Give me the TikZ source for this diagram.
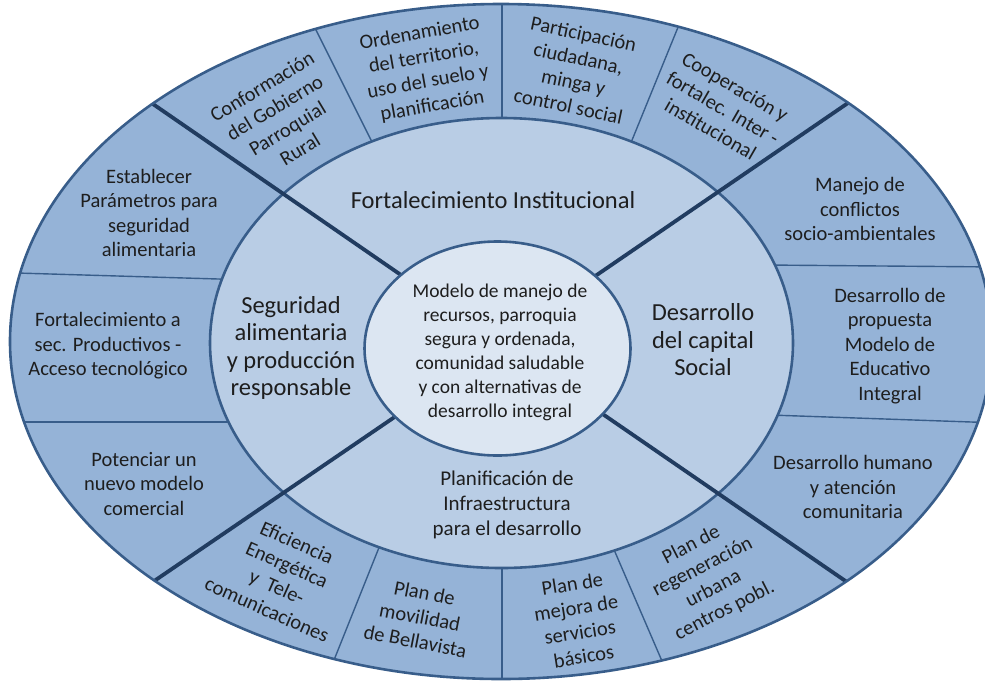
\documentclass[tikz,border=0pt]{standalone}
\usepackage{fontspec}
\setmainfont{Carlito}
\definecolor{outerc}{RGB}{149,179,215}
\definecolor{midc}{RGB}{185,205,229}
\definecolor{innerc}{RGB}{220,230,242}
\definecolor{edgec}{RGB}{56,93,138}
\definecolor{darkc}{RGB}{33,60,96}
\definecolor{textc}{RGB}{30,30,30}
\tikzset{
  thinline/.style={draw=edgec, line width=1.4pt},
  thickline/.style={draw=darkc, line width=3.8pt},
  rim/.style={draw=edgec, line width=2.6pt},
  cell/.style={align=center, inner sep=0pt, text=textc, font=\fontsize{20.5}{24.5}\selectfont},
  midlabel/.style={align=center, inner sep=0pt, text=textc, font=\fontsize{24.5}{27.5}\selectfont},
  planlabel/.style={align=center, inner sep=0pt, text=textc, font=\fontsize{21}{25}\selectfont},
  corelabel/.style={align=center, inner sep=0pt, text=textc, font=\fontsize{19.5}{24}\selectfont}
}
\begin{document}
\begin{tikzpicture}[x=1pt,y=-1pt]
\useasboundingbox (0,0) rectangle (985,681);

% centres
\coordinate (oc) at (501,341.5);
\coordinate (mc) at (501.5,343);
\coordinate (ic) at (497.5,348.5);

% thin dividers end points
\coordinate (d1a) at (312,22);  \coordinate (d1b) at (376,150);
\coordinate (d2a) at (502,-5);  \coordinate (d2b) at (502,130);
\coordinate (d3a) at (683,15);  \coordinate (d3b) at (628,150);
\coordinate (l1a) at (0,272.5); \coordinate (l1b) at (235,279.5);
\coordinate (l2a) at (0,422);   \coordinate (l2b) at (245,422);
\coordinate (r1a) at (765,265); \coordinate (r1b) at (1000,267);
\coordinate (r2a) at (770,415); \coordinate (r2b) at (1000,423);
\coordinate (b1a) at (382,540); \coordinate (b1b) at (328,675);
\coordinate (b2a) at (502,555); \coordinate (b2b) at (502,690);
\coordinate (b3a) at (612,545); \coordinate (b3b) at (668,675);

% thick dividers end points
\coordinate (t1a) at (446,306); \coordinate (t1b) at (140.6,95.5);
\coordinate (t2a) at (550,307); \coordinate (t2b) at (860.4,94.5);
\coordinate (t3a) at (443,384); \coordinate (t3b) at (141,590);
\coordinate (t4a) at (559,384); \coordinate (t4b) at (860,591);

% outer ring
\fill[outerc] (oc) ellipse [x radius=491pt, y radius=337.5pt];
\begin{scope}
  \clip (oc) ellipse [x radius=491pt, y radius=337.5pt];
  \draw[thinline] (d1a) -- (d1b);
  \draw[thinline] (d2a) -- (d2b);
  \draw[thinline] (d3a) -- (d3b);
  \draw[thinline] (l1a) -- (l1b);
  \draw[thinline] (l2a) -- (l2b);
  \draw[thinline] (r1a) -- (r1b);
  \draw[thinline] (r2a) -- (r2b);
  \draw[thinline] (b1a) -- (b1b);
  \draw[thinline] (b2a) -- (b2b);
  \draw[thinline] (b3a) -- (b3b);
  % middle ring
  \filldraw[fill=midc, rim] (mc) ellipse [x radius=291.5pt, y radius=225pt];
  \draw[thickline] (t1a) -- (t1b);
  \draw[thickline] (t2a) -- (t2b);
  \draw[thickline] (t3a) -- (t3b);
  \draw[thickline] (t4a) -- (t4b);
\end{scope}
% inner ellipse
\filldraw[fill=innerc, rim] (ic) ellipse [x radius=133pt, y radius=107pt];
% outer rim
\draw[rim] (oc) ellipse [x radius=491pt, y radius=337.5pt];

% outer ring texts: top
\node[cell, rotate=31]  (c1) at (281,118) {Conformación\\del Gobierno\\Parroquial\\Rural};
\node[cell, rotate=10]  (c2) at (426,70)  {Ordenamiento\\del territorio,\\uso del suelo y\\planificación};
\node[cell, rotate=-12] (c3) at (576,70)  {Participación\\ciudadana,\\minga y\\control social};
\node[cell, rotate=-30] (c4) at (723,108) {Cooperación y\\fortalec. Inter -\\institucional};
% bottom
\node[cell, rotate=-24] (c5) at (282,576) {Eficiencia\\Energética\\y\ \ Tele-\\comunicaciones};
\node[cell, rotate=-11] (c6) at (420,617) {Plan de\\movilidad\\de Bellavista};
\node[cell, rotate=9]   (c7) at (578,620) {Plan de\\mejora de\\servicios\\básicos};
\node[cell, rotate=27]  (c8) at (708,578) {Plan de\\regeneración\\urbana\\centros pobl.};
% left
\node[cell] (c9)  at (149,213) {Establecer\\Parámetros para\\seguridad\\alimentaria};
\node[cell] (c10) at (108,346) {Fortalecimiento a\\sec. Productivos -\\Acceso tecnológico};
\node[cell] (c11) at (144,484) {Potenciar un\\nuevo modelo\\comercial};
% right
\node[cell] (c12) at (860,209) {Manejo de\\conflictos\\socio-ambientales};
\node[cell] (c13) at (890,346) {Desarrollo de\\propuesta\\Modelo de\\Educativo\\Integral};
\node[cell] (c14) at (853,487) {Desarrollo humano\\y atención\\comunitaria};

% middle ring texts
\node[midlabel] (m1) at (493,200) {Fortalecimiento Institucional};
\node[midlabel] (m2) at (291,348) {Seguridad\\alimentaria\\y producción\\responsable};
\node[midlabel] (m3) at (703,340) {Desarrollo\\del capital\\Social};
\node[planlabel] (m4) at (507,505) {Planificación de\\Infraestructura\\para el desarrollo};

% core
\node[corelabel] (core) at (500,352) {Modelo de manejo de\\recursos, parroquia\\segura y ordenada,\\comunidad saludable\\y con alternativas de\\desarrollo integral};
\end{tikzpicture}
\end{document}
